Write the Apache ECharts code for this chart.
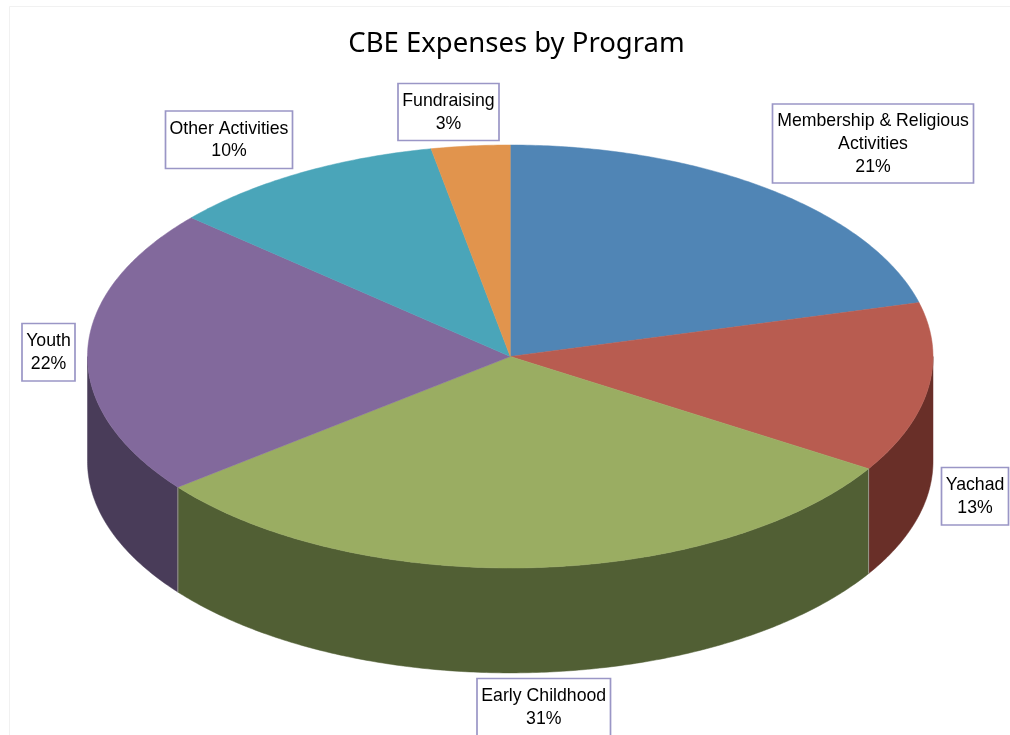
<!DOCTYPE html>
<html>
<head>
<meta charset="utf-8">
<title>CBE Expenses by Program</title>
<script src="https://cdn.jsdelivr.net/npm/echarts@6/dist/echarts.min.js"></script>
<style>
  html, body { margin: 0; padding: 0; background: #fff; }
  #main { width: 1010px; height: 735px; }
</style>
</head>
<body>
<div id="main"></div>
<script>
// clockwise from the top of the pie
const categories = ['Membership & Religious\nActivities', 'Yachad', 'Early Childhood', 'Youth', 'Other Activities', 'Fundraising'];
const shares = [20.9, 13, 30.5, 22, 10.6, 3];
const percentLabels = ['21%', '13%', '31%', '22%', '10%', '3%'];

const topColors = ['#5085b5', '#b85c50', '#9aad62', '#82699c', '#4aa5b9', '#e1944d'];
const wallColors = ['#304f6c', '#692f28', '#515f34', '#493c59', '#2c6270', '#87592e'];
// x, y, width, height of each label box
const labelBoxes = [
  [772.5, 104, 201, 79],
  [941.5, 467.5, 67, 57.5],
  [477, 678.5, 133.5, 60],
  [22, 323.5, 53, 57.5],
  [165.5, 111, 127, 57.5],
  [398, 83.5, 101, 57]
];
const depth = 0.496; // wall height, in units of the vertical radius

let running = 0;
const sliceData = shares.map(function (v) {
  const row = [running, running + v];
  running += v;
  return row;
});

function toAngle(pct) {
  return pct / running * Math.PI * 2;
}

function renderSlice(params, api) {
  const i = params.dataIndex;
  const a0 = toAngle(api.value(0));
  const a1 = toAngle(api.value(1));
  const rim = function (a, drop) {
    return api.coord([Math.sin(a), Math.cos(a) - drop]);
  };
  const children = [];

  // side wall, only the part facing the viewer
  const w0 = Math.max(a0, Math.PI / 2);
  const w1 = Math.min(a1, Math.PI * 1.5);
  if (w1 > w0) {
    const pts = [];
    const n = Math.ceil((w1 - w0) / 0.01);
    for (let k = 0; k <= n; k++) pts.push(rim(w0 + (w1 - w0) * k / n, 0));
    for (let k = n; k >= 0; k--) pts.push(rim(w0 + (w1 - w0) * k / n, depth));
    children.push({
      type: 'polygon',
      shape: { points: pts },
      style: { fill: wallColors[i], stroke: wallColors[i], lineWidth: 0.5 }
    });
    // pale seam where a wall starts at a slice edge
    if (a0 > Math.PI / 2) {
      const p = rim(a0, 0), q = rim(a0, depth);
      children.push({
        type: 'line',
        shape: { x1: p[0], y1: p[1], x2: q[0], y2: q[1] },
        style: { stroke: '#9a9a8e', lineWidth: 1 }
      });
    }
  }

  // top face
  const top = [api.coord([0, 0])];
  const m = Math.ceil((a1 - a0) / 0.01);
  for (let k = 0; k <= m; k++) top.push(rim(a0 + (a1 - a0) * k / m, 0));
  children.push({
    type: 'polygon',
    shape: { points: top },
    style: { fill: topColors[i], stroke: topColors[i], lineWidth: 0.5 }
  });

  return { type: 'group', children: children };
}

function renderLabel(params, api) {
  const i = params.dataIndex;
  const b = labelBoxes[i];
  return {
    type: 'group',
    children: [
      {
        type: 'rect',
        shape: { x: b[0], y: b[1], width: b[2], height: b[3] },
        style: { fill: '#fff', stroke: '#9a96c6', lineWidth: 1.7 }
      },
      {
        type: 'text',
        x: b[0] + b[2] / 2,
        y: b[1] + 0.5 + Math.min(b[3], 57.5 + (b[3] > 70 ? 22.5 : 0)) / 2,
        style: {
          text: categories[i] + '\n' + percentLabels[i],
          fill: '#000',
          font: '17.7px "Liberation Sans", Arial, sans-serif',
          lineHeight: 22.7,
          align: 'center',
          verticalAlign: 'middle'
        }
      }
    ]
  };
}

const myChart = echarts.init(document.getElementById('main'));
myChart.setOption({
  animation: false,
  backgroundColor: '#fff',
  title: {
    text: 'CBE Expenses by Program',
    left: 511.5,
    top: 25,
    textAlign: 'center',
    textStyle: {
      fontFamily: '"Noto Sans"',
      fontSize: 27.5,
      fontWeight: 'normal',
      color: '#000'
    }
  },
  grid: { left: 87.5, width: 845.5, top: 145, height: 423 },
  xAxis: { type: 'value', min: -1, max: 1, show: false },
  yAxis: { type: 'value', min: -1, max: 1, show: false },
  graphic: [
    { type: 'line', shape: { x1: 9.5, y1: 6.5, x2: 9.5, y2: 735 }, style: { stroke: '#f1f1f1', lineWidth: 1 } },
    { type: 'line', shape: { x1: 9.5, y1: 6.5, x2: 1010, y2: 6.5 }, style: { stroke: '#f1f1f1', lineWidth: 1 } }
  ],
  series: [
    {
      type: 'custom',
      clip: false,
      silent: true,
      data: sliceData,
      encode: { x: 0, y: 1 },
      renderItem: renderSlice
    },
    {
      type: 'custom',
      clip: false,
      silent: true,
      z: 5,
      data: sliceData,
      encode: { x: 0, y: 1 },
      renderItem: renderLabel
    }
  ]
});
</script>
</body>
</html>
